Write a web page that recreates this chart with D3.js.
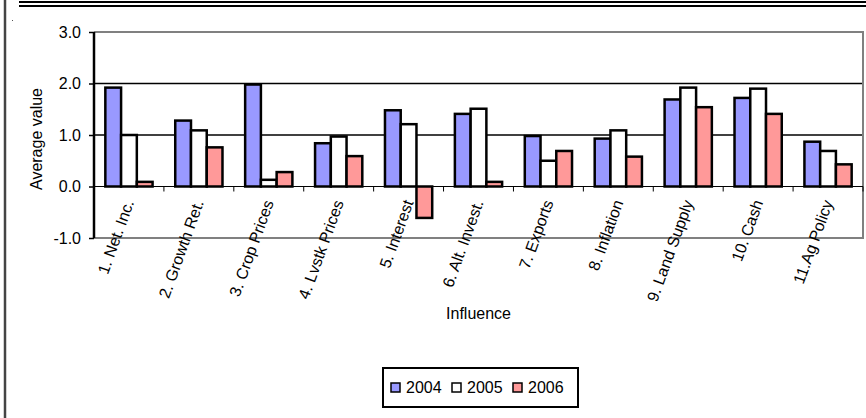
<!DOCTYPE html>
<html>
<head>
<meta charset="utf-8">
<script src="https://cdn.jsdelivr.net/npm/d3@7"></script>
<style>
  body{margin:0;background:#fff;}
  text{font-family:"Liberation Sans",Arial,sans-serif;fill:#000;}
</style>
</head>
<body>
<div id="chart"></div>
<script>
// data
var categories=["1. Net. Inc.","2. Growth Ret.","3. Crop Prices","4. Lvstk Prices","5. Interest","6. Alt. Invest.","7. Exports","8. Inflation","9. Land Supply","10. Cash","11.Ag Policy"];
var years=["2004","2005","2006"];
var v2004=[1.92,1.28,1.98,0.84,1.48,1.41,0.98,0.93,1.69,1.72,0.87];
var v2005=[1.0,1.09,0.13,0.97,1.21,1.51,0.50,1.09,1.92,1.90,0.69];
var v2006=[0.09,0.76,0.28,0.59,-0.61,0.09,0.69,0.58,1.54,1.41,0.43];
var yTicks=[-1,0,1,2,3];
var colors=["#9999ff","#ffffff","#ff9999"];

var W=866,H=418;
var plot={left:94,right:863,top:32,bottom:238};
var fontSize="16px";

var svg=d3.select("#chart").append("svg").attr("width",W).attr("height",H);

//frame lines
svg.append("line").attr("x1",5).attr("x2",5).attr("y1",0).attr("y2",H).attr("stroke","#444").attr("stroke-width",2.5);
svg.append("line").attr("x1",19).attr("x2",W).attr("y1",2).attr("y2",2).attr("stroke","#000").attr("stroke-width",2);
svg.append("line").attr("x1",19).attr("x2",W).attr("y1",6).attr("y2",6).attr("stroke","#000").attr("stroke-width",2);
svg.append("rect").attr("x",12).attr("y",20).attr("width",1).attr("height",1).attr("fill","#555");

var x=d3.scaleBand().domain(categories).range([plot.left,plot.right]);
var y=d3.scaleLinear().domain([-1,3]).range([plot.bottom,plot.top]);
var xs=d3.scaleBand().domain(years).range([0,x.bandwidth()]).paddingInner(0).paddingOuter(0.72);

//gridlines
svg.append("g").selectAll("line").data([1,2]).join("line")
  .attr("x1",plot.left).attr("x2",plot.right)
  .attr("y1",d=>y(d)).attr("y2",d=>y(d))
  .attr("stroke","#000").attr("stroke-width",1.5);

//plot border (gray)
svg.append("path")
  .attr("d","M"+plot.left+","+y(3)+"H"+plot.right+"V"+y(-1)+"H"+plot.left)
  .attr("fill","none").attr("stroke","#808080").attr("stroke-width",2);

//bars
var series=[v2004,v2005,v2006];
var groups=svg.append("g").selectAll("g").data(years).join("g")
  .attr("transform",d=>"translate("+xs(d)+",0)");
groups.each(function(yr,si){
  d3.select(this).selectAll("rect").data(series[si]).join("rect")
    .attr("x",(d,i)=>x(categories[i]))
    .attr("y",d=>y(Math.max(0,d)))
    .attr("width",xs.bandwidth())
    .attr("height",d=>Math.abs(y(d)-y(0)))
    .attr("fill",colors[si])
    .attr("stroke","#000").attr("stroke-width",2.5);
});

//x axis at zero
var xAxis=svg.append("g").attr("transform","translate(0,"+y(0)+")");
xAxis.append("line").attr("x1",plot.left).attr("x2",plot.right).attr("stroke","#000").attr("stroke-width",1);
xAxis.selectAll("line.tick").data(categories).join("line").attr("class","tick")
  .attr("x1",(d,i)=>plot.left+(i+1)*x.step()).attr("x2",(d,i)=>plot.left+(i+1)*x.step())
  .attr("y1",0).attr("y2",5).attr("stroke","#000");
xAxis.selectAll("text").data(categories).join("text")
  .attr("transform",d=>"translate("+(x(d)+x.bandwidth()/2)+",14) rotate(-70)")
  .attr("text-anchor","end").attr("dy","0.35em")
  .style("font-size",fontSize).text(d=>d);

//y axis
var yAxis=svg.append("g").attr("transform","translate("+plot.left+",0)")
  .call(d3.axisLeft(y).tickValues(yTicks).tickFormat(d=>d.toFixed(1)).tickSize(5).tickPadding(8));
yAxis.select(".domain").attr("stroke","#000").attr("stroke-width",2.5).attr("d","M0,"+y(3)+"V"+y(-1));
yAxis.selectAll(".tick line").attr("stroke","#000").attr("stroke-width",1.5);
yAxis.selectAll(".tick text").style("font-size",fontSize).style("font-family","Liberation Sans, Arial, sans-serif");

//axis titles
svg.append("text").attr("transform","translate(42,139) rotate(-90)")
  .attr("text-anchor","middle").style("font-size",fontSize).text("Average value");
svg.append("text").attr("x",(plot.left+plot.right)/2).attr("y",319)
  .attr("text-anchor","middle").style("font-size",fontSize).text("Influence");

//legend
var lg=svg.append("g").attr("transform","translate(383,368)");
lg.append("rect").attr("width",195).attr("height",39).attr("fill","#fff").attr("stroke","#000").attr("stroke-width",2);
var item=lg.selectAll("g").data(years).join("g").attr("transform",(d,i)=>"translate("+(8+i*61)+",0)");
item.append("rect").attr("y",15).attr("width",9).attr("height",9)
  .attr("fill",(d,i)=>colors[i]).attr("stroke","#000").attr("stroke-width",1.5);
item.append("text").attr("x",15).attr("y",25).style("font-size",fontSize).text(d=>d);
</script>
</body>
</html>
